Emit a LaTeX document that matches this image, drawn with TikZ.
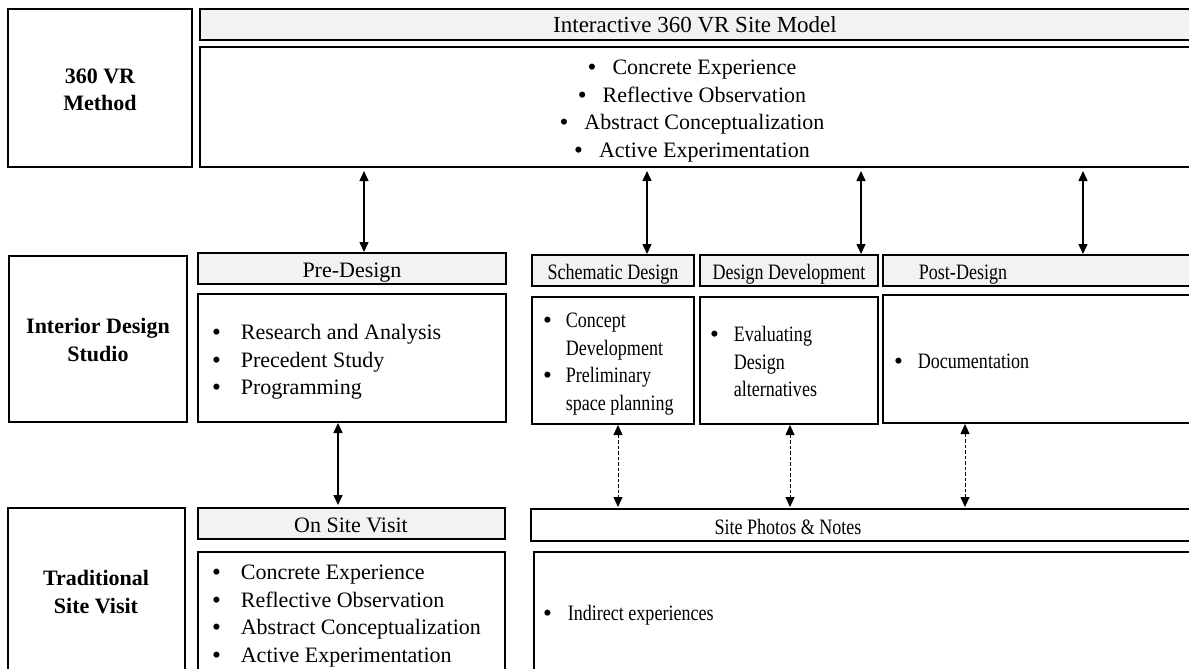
\documentclass[tikz,border=0pt]{standalone}
\usepackage{fontspec}
\setmainfont{Liberation Serif}
\newfontfamily\narrowserif[FakeStretch=0.82]{Liberation Serif}
\usetikzlibrary{arrows.meta,fit}
\definecolor{headgrey}{HTML}{F2F2F2}

% round bullet, always in the upright main face
\newcommand\bul{{\rmfamily\raisebox{-1pt}{\scalebox{1.15}{\textbullet}}}}
% bullet list: #1 = gap between bullet and text, #2 = rows
\newcommand\bulletrows[2]{\begin{tabular}{@{}l@{\hspace{#1}}l@{}}#2\end{tabular}}

\tikzset{
  frame/.style={draw=black, line width=1.4pt, inner sep=0pt, outer sep=0pt},
  headbox/.style={frame, fill=headgrey},
  txt/.style={inner sep=0pt, outer sep=0pt, font=\fontsize{22}{27.7}\selectfont},
  ntxt/.style={inner sep=0pt, outer sep=0pt, font=\narrowserif\fontsize{22}{27.7}\selectfont},
  lbl/.style={inner sep=0pt, outer sep=0pt, align=center, font=\fontsize{22}{27.5}\selectfont\bfseries},
  link/.style={{Triangle[length=10pt,width=9pt]}-{Triangle[length=10pt,width=9pt]}, line width=1.5pt},
  weaklink/.style={{Triangle[length=10pt,width=9pt]}-{Triangle[length=10pt,width=9pt]}, line width=0.8pt, dash pattern=on 3.5pt off 2pt},
}

\begin{document}
\begin{tikzpicture}[x=1pt,y=-1pt]
\useasboundingbox (0,0) rectangle (1189,669);
\clip (0,0) rectangle (1189,669);

% ---- row 1: 360 VR method
\node[frame, fit={(8,9) (192,167)}] (vrlabel) {};
\node[lbl] (vrlabeltxt) at (100,90) {360 VR\\Method};
\node[headbox, fit={(200,9) (1195,40)}] (vrhead) {};
\node[txt, font=\fontsize{23}{27.7}\selectfont, anchor=base] (vrheadtxt) at (695,33) {Interactive 360 VR Site Model};
\node[frame, fit={(200,47) (1195,167)}] (vrbody) {};
\node[txt, align=center] (vrlist) at (692,111) {%
  \bul\hspace{16pt}Concrete Experience\\
  \bul\hspace{16pt}Reflective Observation\\
  \bul\hspace{16pt}Abstract Conceptualization\\
  \bul\hspace{16pt}Active Experimentation};

% ---- row 2: interior design studio
\node[frame, fit={(9,256) (187,422)}] (idslabel) {};
\node[lbl] (idslabeltxt) at (98,340) {Interior Design\\Studio};

\node[headbox, fit={(198,253) (506,284)}] (prehead) {};
\node[txt, anchor=base] (preheadtxt) at (352,277) {Pre-Design};
\node[frame, fit={(198,294) (506,422)}] (prebody) {};
\node[txt, anchor=west] (prelist) at (212,361.5) {\bulletrows{20pt}{%
  \bul & Research and Analysis\\
  \bul & Precedent Study\\
  \bul & Programming}};

\node[headbox, fit={(532,255) (694,286)}] (schhead) {};
\node[ntxt, anchor=base] (schheadtxt) at (613,279) {Schematic Design};
\node[frame, fit={(532,297) (694,424)}] (schbody) {};
\node[ntxt, anchor=west] (schlist) at (543,363.5) {\bulletrows{14pt}{%
  \bul & Concept\\
   & Development\\
  \bul & Preliminary\\
   & space planning}};

\node[headbox, fit={(700,255) (878,286)}] (ddhead) {};
\node[ntxt, anchor=base] (ddheadtxt) at (789,279) {Design Development};
\node[frame, fit={(700,297) (878,424)}] (ddbody) {};
\node[ntxt, anchor=west] (ddlist) at (710,363.5) {\bulletrows{15pt}{%
  \bul & Evaluating\\
   & Design\\
   & alternatives}};

\node[headbox, fit={(883,255) (1195,286)}] (posthead) {};
\node[ntxt, anchor=base] (postheadtxt) at (963,279) {Post-Design};
\node[frame, fit={(883,295) (1195,423)}] (postbody) {};
\node[ntxt, anchor=west] (postlist) at (894,363) {\bulletrows{15pt}{%
  \bul & Documentation}};

% ---- row 3: traditional site visit
\node[frame, fit={(8,508) (185,690)}] (tsvlabel) {};
\node[lbl] (tsvlabeltxt) at (96,592) {Traditional\\Site Visit};

\node[headbox, fit={(198,508) (505,539)}] (onsitehead) {};
\node[txt, anchor=base] (onsiteheadtxt) at (351,532) {On Site Visit};
\node[frame, fit={(198,552) (505,690)}] (onsitebody) {};
\node[txt, anchor=west] (onsitelist) at (212,615.5) {\bulletrows{20pt}{%
  \bul & Concrete Experience\\
  \bul & Reflective Observation\\
  \bul & Abstract Conceptualization\\
  \bul & Active Experimentation}};

\node[frame, fit={(531,509) (1195,541)}] (photohead) {};
\node[ntxt, anchor=base] (photoheadtxt) at (788,534) {Site Photos \& Notes};
\node[frame, fit={(534,552) (1195,690)}] (photobody) {};
\node[ntxt, anchor=west] (photolist) at (543,615) {\bulletrows{16pt}{%
  \bul & Indirect experiences}};

% ---- connector columns
\coordinate (c1) at (364,0);
\coordinate (c2) at (647,0);
\coordinate (c3) at (861,0);
\coordinate (c4) at (1083,0);
\coordinate (d1) at (338,0);
\coordinate (d2) at (618,0);
\coordinate (d3) at (790,0);
\coordinate (d4) at (965,0);

% 360 VR model <-> design phases
\draw[link, shorten <=4pt, shorten >=1pt] (vrbody.south -| c1) -- (prehead.north -| c1);
\draw[link, shorten <=4pt, shorten >=1pt] (vrbody.south -| c2) -- (schhead.north -| c2);
\draw[link, shorten <=4pt, shorten >=1pt] (vrbody.south -| c3) -- (ddhead.north -| c3);
\draw[link, shorten <=4pt, shorten >=1pt] (vrbody.south -| c4) -- (posthead.north -| c4);

% design phases <-> site visit
\draw[link, shorten <=1pt, shorten >=3pt] (prebody.south -| d1) -- (onsitehead.north -| d1);
\draw[weaklink, shorten <=1pt, shorten >=2pt] (schbody.south -| d2) -- (photohead.north -| d2);
\draw[weaklink, shorten <=1pt, shorten >=2pt] (ddbody.south -| d3) -- (photohead.north -| d3);
\draw[weaklink, shorten <=1pt, shorten >=2pt] (postbody.south -| d4) -- (photohead.north -| d4);
\end{tikzpicture}
\end{document}
